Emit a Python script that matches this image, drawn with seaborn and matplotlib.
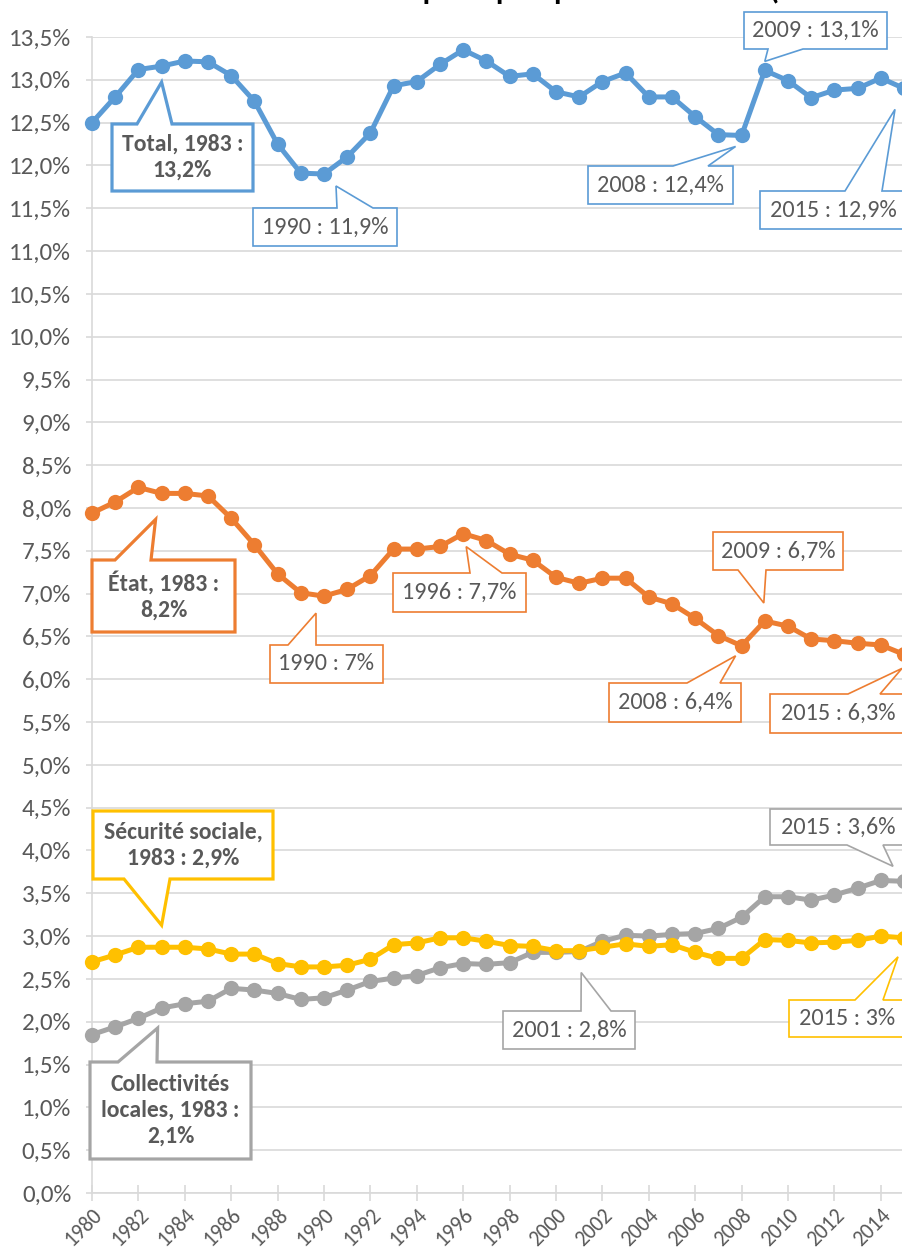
import matplotlib
matplotlib.use("Agg")
import matplotlib.pyplot as plt
import seaborn as sns
import numpy as np
import pandas as pd
from matplotlib.patches import Polygon
from matplotlib.transforms import IdentityTransform

# ---------------- data ----------------
years = list(range(1980, 2016))
total = [12.5, 12.8, 13.12, 13.16, 13.22, 13.21, 13.05, 12.75, 12.25, 11.91, 11.9, 12.1,
         12.38, 12.93, 12.98, 13.18, 13.35, 13.22, 13.04, 13.07, 12.86, 12.8, 12.98, 13.08,
         12.8, 12.8, 12.57, 12.36, 12.35, 13.11, 12.99, 12.79, 12.88, 12.9, 13.02, 12.9]
etat = [7.94, 8.07, 8.24, 8.17, 8.17, 8.14, 7.88, 7.57, 7.23, 7.01, 6.97, 7.05,
        7.21, 7.52, 7.52, 7.55, 7.7, 7.62, 7.46, 7.39, 7.19, 7.12, 7.18, 7.18,
        6.96, 6.88, 6.71, 6.51, 6.39, 6.68, 6.62, 6.47, 6.45, 6.42, 6.4, 6.29]
secu = [2.7, 2.78, 2.87, 2.87, 2.87, 2.85, 2.79, 2.79, 2.68, 2.64, 2.64, 2.66,
        2.73, 2.9, 2.92, 2.98, 2.98, 2.94, 2.89, 2.88, 2.83, 2.83, 2.87, 2.91,
        2.88, 2.9, 2.81, 2.74, 2.74, 2.96, 2.95, 2.92, 2.93, 2.95, 3.0, 2.98]
coll = [1.85, 1.94, 2.04, 2.16, 2.21, 2.24, 2.39, 2.37, 2.33, 2.26, 2.28, 2.37,
        2.47, 2.51, 2.54, 2.63, 2.68, 2.67, 2.69, 2.81, 2.81, 2.82, 2.94, 3.01,
        3.0, 3.02, 3.03, 3.09, 3.22, 3.46, 3.46, 3.42, 3.48, 3.56, 3.65, 3.64]
series_names = ["Total", "État", "Collectivités locales", "Sécurité sociale"]
series_vals = {"Total": total, "État": etat, "Sécurité sociale": secu,
               "Collectivités locales": coll}
colors = {"Total": "#5B9BD5", "État": "#ED7D31", "Sécurité sociale": "#FFC000",
          "Collectivités locales": "#A5A5A5"}
yticks = [i * 0.5 for i in range(28)]
xticks = list(range(1980, 2015, 2))
title = "Masse salariale des administrations publiques par sous-secteur (en % du PIB)"

df = pd.DataFrame({
    "Année": years * len(series_names),
    "Valeur": sum([series_vals[s] for s in series_names], []),
    "Série": sum([[s] * len(years) for s in series_names], []),
})

# ---------------- figure ----------------
W, H = 902, 1258
sns.set_theme(style="white")
plt.rcParams["font.family"] = ["Carlito", "Lato", "DejaVu Sans"]
TXT = "#595959"
GRID = "#D9D9D9"

fig = plt.figure(figsize=(W / 100, H / 100), dpi=100)
ax = fig.add_axes([92 / W, 65 / H, 812 / W, 1156 / H])

for s in series_names:
    sns.lineplot(data=df[df["Série"] == s], x="Année", y="Valeur", ax=ax,
                 color=colors[s], linewidth=3.6, marker="o", markersize=11,
                 markeredgewidth=0, clip_on=False, zorder=3)

ax.set_xlim(1980, 2015)
ax.set_ylim(0, 13.5)
ax.set_yticks(yticks)
ax.set_yticklabels([f"{v:.1f}%".replace(".", ",") for v in yticks])
ax.set_xticks(xticks)
ax.set_xticklabels([str(y) for y in xticks], rotation=45, ha="right",
                   va="top", rotation_mode="anchor")
ax.set_xlabel("")
ax.set_ylabel("")
ax.grid(axis="y", color=GRID, linewidth=1.2)
ax.grid(axis="x", visible=False)
for sp in ["top", "right"]:
    ax.spines[sp].set_visible(False)
ax.spines["left"].set_color(GRID)
ax.spines["left"].set_linewidth(1.2)
ax.spines["bottom"].set_color(GRID)
ax.spines["bottom"].set_linewidth(1.2)
ax.tick_params(axis="y", length=4, width=1.2, color=GRID, pad=11,
               labelsize=18, labelcolor=TXT, left=True)
ax.tick_params(axis="x", direction="inout", length=11, width=1.2, color=GRID,
               pad=3, labelsize=15.5, labelcolor=TXT, bottom=True)

fig.text(0.5, 1.0 + 1 / H, title, ha="center", va="baseline", fontsize=22,
         fontweight="bold", color="black")

# ---------------- callouts ----------------
callouts = [
    dict(text="Total, 1983 :\n13,2%", s="Total", year=1983, box=(112, 124, 253, 191),
         side="top", base=(137, 172), off=(0, 16), bold=True),
    dict(text="1990 : 11,9%", s="Total", year=1990, box=(253, 208, 397, 246),
         side="top", base=(337, 373), off=(12, 12)),
    dict(text="2008 : 12,4%", s="Total", year=2008, box=(588, 166, 733, 204),
         side="top", base=(673, 708), off=(-6, 11)),
    dict(text="2009 : 13,1%", s="Total", year=2009, box=(744, 12, 887, 49),
         side="bottom", base=(768, 803), off=(0, -9)),
    dict(text="2015 : 12,9%", s="Total", year=2015, box=(760, 191, 906, 229),
         side="top", base=(845, 882), off=(-9, 21)),
    dict(text="État, 1983 :\n8,2%", s="État", year=1983, box=(92, 560, 235, 632),
         side="top", base=(115, 151), off=(-6, 26), bold=True),
    dict(text="1990 : 7%", s="État", year=1990, box=(270, 645, 383, 683),
         side="top", base=(288, 316), off=(-8, 17)),
    dict(text="1996 : 7,7%", s="État", year=1996, box=(393, 573, 526, 612),
         side="top", base=(470, 502), off=(3, 13)),
    dict(text="2009 : 6,7%", s="État", year=2009, box=(713, 532, 843, 570),
         side="bottom", base=(738, 766), off=(-1, -18)),
    dict(text="2008 : 6,4%", s="État", year=2008, box=(609, 683, 741, 722),
         side="top", base=(687, 720), off=(-6, 10)),
    dict(text="2015 : 6,3%", s="État", year=2015, box=(770, 694, 906, 733),
         side="top", base=(848, 880), off=(-2, 14)),
    dict(text="Sécurité sociale,\n1983 : 2,9%", s="Sécurité sociale", year=1983,
         box=(93, 811, 273, 879), side="bottom", base=(124, 170), off=(0, -22), bold=True),
    dict(text="2015 : 3,6%", s="Collectivités locales", year=2015, box=(770, 809, 906, 845),
         side="bottom", base=(847, 883), off=(-11, -15)),
    dict(text="2001 : 2,8%", s="Collectivités locales", year=2001, box=(503, 1011, 635, 1049),
         side="top", base=(581, 611), off=(2, 21)),
    dict(text="2015 : 3%", s="Sécurité sociale", year=2015, box=(789, 1000, 906, 1037),
         side="top", base=(855, 883), off=(-6, 19)),
    dict(text="Collectivités\nlocales, 1983 :\n2,1%", s="Collectivités locales", year=1983,
         box=(90, 1062, 251, 1159), side="top", base=(118, 157), off=(-4, 20), bold=True),
]

fig.canvas.draw()
for c in callouts:
    val = series_vals[c["s"]][years.index(c["year"])]
    dx, dy = ax.transData.transform((c["year"], val))
    tip = (dx + c["off"][0], dy - c["off"][1])
    x0, y0, x1, y1 = c["box"]
    b0, b1 = c["base"]
    Y0, Y1 = H - y0, H - y1
    if c["side"] == "top":
        verts = [(x0, Y0), (b0, Y0), tip, (b1, Y0), (x1, Y0), (x1, Y1), (x0, Y1)]
    else:
        verts = [(x0, Y0), (x1, Y0), (x1, Y1), (b1, Y1), tip, (b0, Y1), (x0, Y1)]
    bold = c.get("bold", False)
    poly = Polygon(verts, closed=True, facecolor="white", edgecolor=colors[c["s"]],
                   linewidth=2.3 if bold else 1.2, joinstyle="miter",
                   transform=IdentityTransform(), zorder=10)
    fig.add_artist(poly)
    fig.text((x0 + x1) / 2 / W, 1 - (y0 + y1) / 2 / H, c["text"], ha="center",
             va="center", fontsize=17 if bold else 17.5, color=TXT, linespacing=1.3,
             fontweight="bold" if bold else "normal", zorder=11)

fig.savefig("out.png", dpi=100)
